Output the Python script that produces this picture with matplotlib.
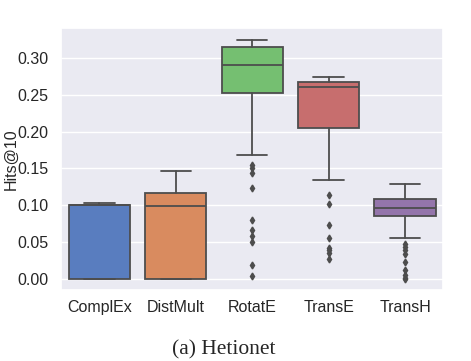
import matplotlib
matplotlib.use("Agg")
import matplotlib.pyplot as plt
import seaborn as sns

models = ["ComplEx", "DistMult", "RotatE", "TransE", "TransH"]

# box statistics
whislo = [0.0, 0.0, 0.168, 0.135, 0.056]
q1 = [0.0, 0.0, 0.252, 0.205, 0.085]
med = [0.100, 0.099, 0.290, 0.260, 0.097]
q3 = [0.101, 0.117, 0.314, 0.267, 0.108]
whishi = [0.103, 0.147, 0.324, 0.274, 0.129]
fliers = [
    [],
    [],
    [0.154, 0.150, 0.144, 0.124, 0.080, 0.067, 0.059, 0.050, 0.019, 0.004],
    [0.114, 0.102, 0.073, 0.056, 0.042, 0.039, 0.035, 0.027],
    [0.047, 0.043, 0.040, 0.034, 0.023, 0.013, 0.005, 0.002, 0.000],
]

sns.set_theme(style="darkgrid")
plt.rcParams["font.family"] = ["Liberation Sans", "DejaVu Sans"]

colors = [sns.desaturate(c, 0.75) for c in sns.color_palette("muted", 5)]
edge = "#4d4d4d"

stats = []
for i, m in enumerate(models):
    stats.append(dict(label=m, whislo=whislo[i], q1=q1[i], med=med[i],
                      q3=q3[i], whishi=whishi[i], fliers=fliers[i]))

fig = plt.figure(figsize=(4.71, 3.61), dpi=100)
ax = fig.add_axes([0.130, 0.197, 0.811, 0.725])

bp = ax.bxp(stats, positions=range(len(models)), widths=0.8,
            patch_artist=True, showfliers=True,
            boxprops=dict(edgecolor=edge, linewidth=1.3),
            medianprops=dict(color=edge, linewidth=1.3),
            whiskerprops=dict(color=edge, linewidth=1.3),
            capprops=dict(color=edge, linewidth=1.3),
            flierprops=dict(marker="d", markersize=3.5, markerfacecolor=edge,
                            markeredgecolor=edge, linestyle="none"))
for patch, c in zip(bp["boxes"], colors):
    patch.set_facecolor(c)
for cap in bp["caps"]:
    x = cap.get_xdata()
    mid = (x[0] + x[1]) / 2
    cap.set_xdata([mid - 0.2, mid + 0.2])

ax.set_xlim(-0.5, 4.5)
ax.set_ylim(-0.0145, 0.340)
ax.set_yticks([0.0, 0.05, 0.10, 0.15, 0.20, 0.25, 0.30])
ax.set_yticklabels(["0.00", "0.05", "0.10", "0.15", "0.20", "0.25", "0.30"])
ax.tick_params(axis="both", labelsize=11.5, colors="#262626")
ax.tick_params(axis="y", pad=3)
ax.tick_params(axis="x", pad=1)
ax.set_ylabel("Hits@10", fontsize=11.5)
ax.yaxis.set_label_coords(-0.112, 0.5)
ax.grid(axis="x", visible=False)

fig.text(0.474, 0.004, "(a) Hetionet", ha="center", va="bottom",
         fontsize=15.5, family=["Liberation Serif", "DejaVu Serif"])

fig.savefig("out.png", dpi=100)
